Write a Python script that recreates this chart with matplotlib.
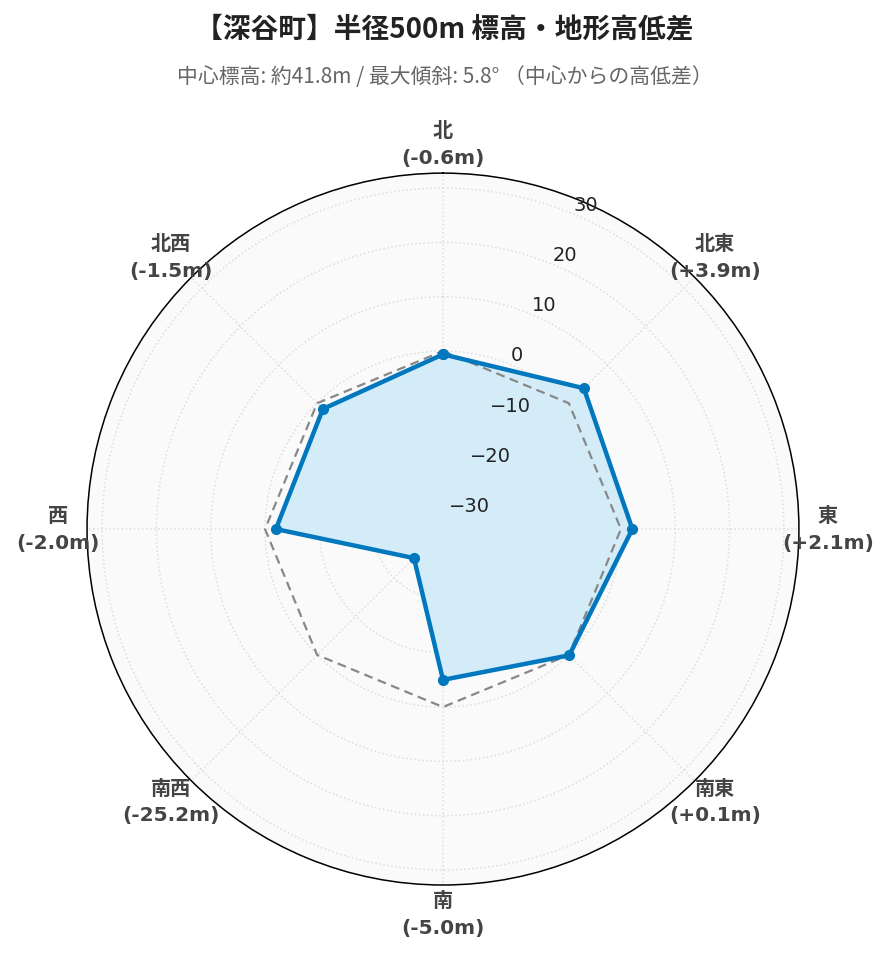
import numpy as np
import matplotlib.pyplot as plt
from matplotlib import transforms

# 方位ごとの中心からの高低差 (m)
directions = ['北', '北東', '東', '南東', '南', '南西', '西', '北西']
elev_diff = [-0.6, 3.9, 2.1, 0.1, -5.0, -25.2, -2.0, -1.5]
r_ticks = [-30, -20, -10, 0, 10, 20, 30]

title = '【深谷町】半径500m 標高・地形高低差'
subtitle = '中心標高: 約41.8m / 最大傾斜: 5.8° （中心からの高低差）'

line_color = '#0177bd'
fill_color = '#d3ecf8'

plt.rcParams['font.family'] = ['DejaVu Sans', 'Noto Sans CJK JP']

fig = plt.figure(figsize=(8.89, 9.62), dpi=100)
ax = fig.add_axes([0.0978, 0.079, 0.801, 0.740], projection='polar')
ax.set_theta_zero_location('N')
ax.set_theta_direction(-1)
ax.set_facecolor('#fafafa')

r_lim = max(abs(v) for v in elev_diff) * 1.3
ax.set_rlim(-r_lim, r_lim)

theta = np.deg2rad(np.arange(len(directions)) * 360 / len(directions))
theta_c = np.append(theta, theta[0])
vals_c = np.append(elev_diff, elev_diff[0])
zero_c = np.zeros_like(vals_c)

ax.fill(theta_c, vals_c, color=fill_color, zorder=2)
ax.plot(theta_c, zero_c, color='#888888', lw=1.6, ls=(0, (4, 2.5)), zorder=3)
ax.plot(theta_c, vals_c, color=line_color, lw=3.2, marker='o', ms=7, zorder=4)

# grid
ax.set_xticks(theta)
ax.set_xticklabels([])
ax.set_yticks(r_ticks)
ax.set_yticklabels([])
ax.grid(True, color='#dddddd', ls=':', lw=1.1)
ax.spines['polar'].set_color('black')
ax.spines['polar'].set_linewidth(1.1)

# radial tick labels along the 22.5° line
lab_tr = ax.transData + transforms.ScaledTranslation(0, 3 / 72, fig.dpi_scale_trans)
for v in r_ticks:
    ax.text(np.deg2rad(22.5), v, f'{v}'.replace('-', '\u2212'), transform=lab_tr,
            ha='left', va='baseline', fontsize=14, color='#222222', zorder=6)

# direction labels
r_lab = -r_lim + 2 * r_lim * 385 / 356
for t, d, v in zip(theta, directions, elev_diff):
    ax.text(t, r_lab, f'{d}\n({v:+.1f}m)'.replace('+-', '-'), ha='center', va='center',
            fontsize=14.5, fontweight='bold', color='#444444', linespacing=1.5,
            clip_on=False, zorder=6)

fig.text(0.5, 0.969, title, ha='center', va='center', fontsize=20, fontweight='bold',
         family=['Noto Sans CJK JP'], color='#222222')
fig.text(0.5, 0.920, subtitle, ha='center', va='center', fontsize=15,
         family=['Noto Sans CJK JP', 'DejaVu Sans'], color='#666666')

fig.savefig('out.png', dpi=100)
